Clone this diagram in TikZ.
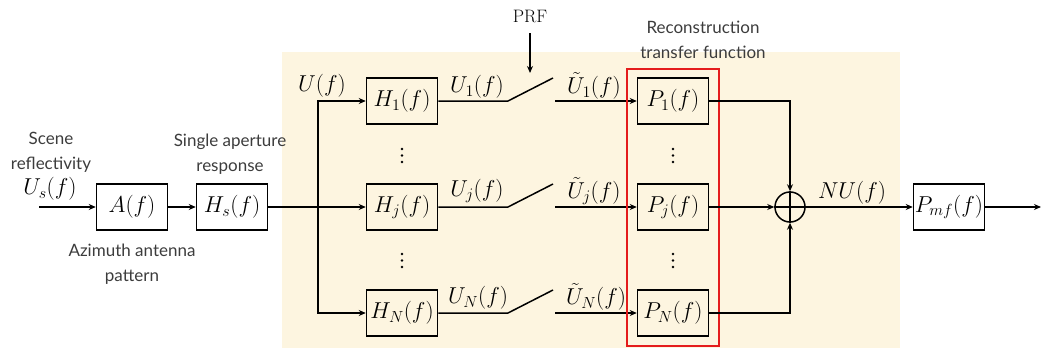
\RequirePackage{fix-cm}
\documentclass[tikz,border=0pt]{standalone}
\usepackage{fontspec}
\newfontfamily\labfont{Lato}
\usetikzlibrary{arrows.meta}
\definecolor{bgcream}{RGB}{253,245,224}
\definecolor{redbox}{RGB}{228,28,28}
\definecolor{labgray}{RGB}{60,60,60}
\begin{document}
\begin{tikzpicture}[x=1pt,y=-1pt,
  line width=1.5pt,
  blk/.style={draw,line width=1.5pt,minimum width=71pt,minimum height=46pt,inner sep=0pt,font=\fontsize{23}{27}\selectfont},
  mlab/.style={font=\fontsize{23}{27}\selectfont,inner sep=0pt},
  tlab/.style={font=\labfont\fontsize{17}{25}\selectfont,text=labgray,align=center,inner sep=0pt},
  arr/.style={-{Stealth[length=7pt,width=6pt]}},
  dot/.style={fill,radius=1.4pt}
]
\useasboundingbox (0,0) rectangle (1042,348);
\fill[bgcream] (282,52) rectangle (900,348);

% input chain
\coordinate (in) at (39,207);
\node[blk] (A) at (132,207) {$A(f)$};
\node[blk] (Hs) at (232,207) {$H_s(f)$};
\node[mlab] (Us) at (50,189) {$U_s(f)$};
\node[tlab] (scene) at (51,152) {Scene\\reflectivity};
\node[tlab] (single) at (230,154) {Single aperture\\response};
\node[tlab] (azim) at (132,264) {Azimuth antenna\\pattern};
\draw[arr] (in) -- (A.west);
\draw[arr] (A.east) -- (Hs.west);

% split
\coordinate (J) at (318,207);
\node[mlab] (U) at (322,86) {$U(f)$};
\node[blk] (H1) at (402,101) {$H_1(f)$};
\node[blk] (Hj) at (402,207) {$H_j(f)$};
\node[blk] (HN) at (402,313) {$H_N(f)$};
\draw (Hs.east) -- (J);
\draw[arr] (J) |- (H1.west);
\draw[arr] (J) -- (Hj.west);
\draw[arr] (J) |- (HN.west);
\fill[dot] (402,149) circle[radius=1.4pt] (402,155.5) circle[radius=1.4pt] (402,162) circle[radius=1.4pt];
\fill[dot] (402,254) circle[radius=1.4pt] (402,260.5) circle[radius=1.4pt] (402,267) circle[radius=1.4pt];

% signals and switches
\node[mlab] (U1) at (477,87) {$U_1(f)$};
\node[mlab] (Uj) at (477,191) {$U_j(f)$};
\node[mlab] (UN) at (478,298) {$U_N(f)$};
\node[mlab] (Ut1) at (594,86) {$\tilde U_1(f)$};
\node[mlab] (Utj) at (594,191) {$\tilde U_j(f)$};
\node[mlab] (UtN) at (596,297) {$\tilde U_N(f)$};

\node[font=\fontsize{18}{20}\selectfont,inner sep=0pt] (PRF) at (530,16) {PRF};
\coordinate (prfs) at (530,33);
\coordinate (prfe) at (530,73);
\draw[arr] (prfs) -- (prfe);

\coordinate (s1a) at (508,101); \coordinate (s1b) at (553,78); \coordinate (s1c) at (555,101);
\coordinate (sja) at (508,207); \coordinate (sjb) at (553,184); \coordinate (sjc) at (555,207);
\coordinate (sNa) at (508,313); \coordinate (sNb) at (553,290); \coordinate (sNc) at (555,313);

\node[blk] (P1) at (673,101) {$P_1(f)$};
\node[blk] (Pj) at (673,207) {$P_j(f)$};
\node[blk] (PN) at (673,313) {$P_N(f)$};

\draw (H1.east) -- (s1a) -- (s1b);
\draw (Hj.east) -- (sja) -- (sjb);
\draw (HN.east) -- (sNa) -- (sNb);
\draw[arr] (s1c) -- (P1.west);
\draw[arr] (sjc) -- (Pj.west);
\draw[arr] (sNc) -- (PN.west);

\fill[dot] (673,149) circle[radius=1.4pt] (673,155.5) circle[radius=1.4pt] (673,162) circle[radius=1.4pt];
\fill[dot] (673,254) circle[radius=1.4pt] (673,260.5) circle[radius=1.4pt] (673,267) circle[radius=1.4pt];

\draw[redbox,line width=2.2pt] (627,69) rectangle (719,346);
\node[tlab] (recon) at (703,40) {Reconstruction\\transfer function};

% summation
\node[circle,draw,line width=1.5pt,minimum size=30pt,inner sep=0pt] (S) at (790,207) {};
\draw (S.north) -- (S.south);
\draw (S.west) -- (S.east);
\draw[arr] (P1.east) -| (S.north);
\draw[arr] (Pj.east) -- (S.west);
\draw[arr] (PN.east) -| (S.south);

\node[mlab] (NU) at (852,193) {$NU(f)$};
\node[blk] (Pmf) at (949,207) {$P_{mf}(f)$};
\coordinate (out) at (1041,207);
\draw[arr] (S.east) -- (Pmf.west);
\draw[arr,line width=2pt] (Pmf.east) -- (out);
\end{tikzpicture}
\end{document}
